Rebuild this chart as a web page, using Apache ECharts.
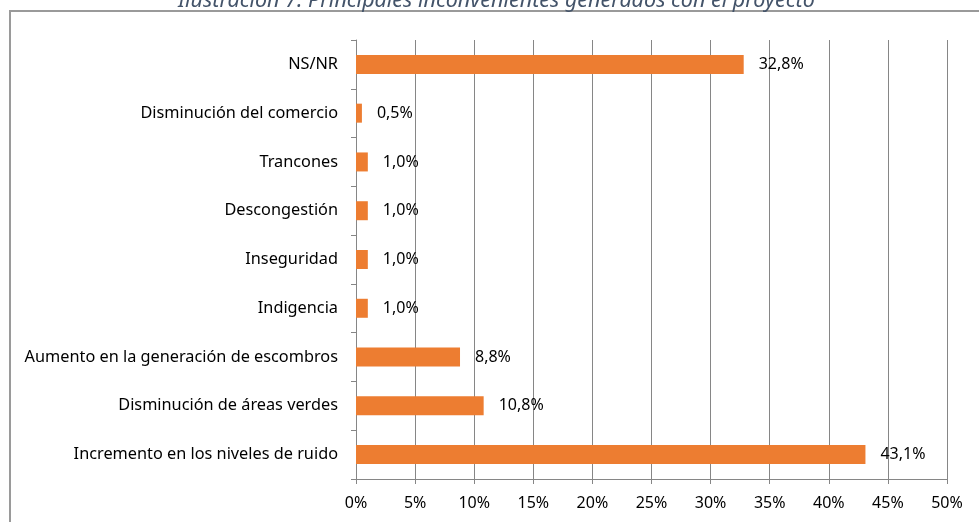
<!DOCTYPE html>
<html>
<head>
<meta charset="utf-8">
<script src="https://cdn.jsdelivr.net/npm/echarts@6/dist/echarts.min.js"></script>
<style>
	html, body { margin: 0; padding: 0; background: #fff; }
	#chart { width: 979px; height: 522px; }
</style>
</head>
<body>
<div id="chart"></div>
<script>
	// data (bottom to top, as drawn)
	var categories = [
		'Incremento en los niveles de ruido',
		'Disminución de áreas verdes',
		'Aumento en la generación de escombros',
		'Indigencia',
		'Inseguridad',
		'Descongestión',
		'Trancones',
		'Disminución del comercio',
		'NS/NR'
	]
	var values = [43.1, 10.8, 8.8, 1.0, 1.0, 1.0, 1.0, 0.5, 32.8]
	var titleText = 'Ilustración 7: Principales inconvenientes generados con el proyecto'

	var font = 'Noto Sans'
	var chart = echarts.init(document.getElementById('chart'))
	chart.setOption({
		animation: false,
		textStyle: { fontFamily: font },
		title: {
			text: titleText,
			left: 173,
			top: -15,
			textStyle: { fontFamily: font, fontStyle: 'italic', fontWeight: 'normal', fontSize: 21.5, color: '#44546A' }
		},
		graphic: [{
			type: 'rect',
			shape: { x: 10, y: 11, width: 1000, height: 600 },
			style: { fill: 'none', stroke: '#9a9a9a', lineWidth: 2 },
			silent: true
		}],
		grid: { left: 356, right: 32, top: 40, bottom: 43 },
		xAxis: {
			type: 'value',
			min: 0,
			max: 50,
			interval: 5,
			axisLine: { show: true, lineStyle: { color: '#868686' } },
			axisTick: { show: true, length: 5, lineStyle: { color: '#868686' } },
			splitLine: { show: true, lineStyle: { color: '#868686', width: 1 } },
			axisLabel: { formatter: '{value}%', fontSize: 16, color: '#000', margin: 16 }
		},
		yAxis: {
			type: 'category',
			data: categories,
			axisLine: { show: true, lineStyle: { color: '#868686' } },
			axisTick: { show: true, length: 5, lineStyle: { color: '#868686' } },
			axisLabel: { fontSize: 16.3, color: '#000', margin: 18 }
		},
		series: [{
			type: 'bar',
			data: values,
			barWidth: 19,
			itemStyle: { color: '#ED7D31' },
			label: {
				show: true,
				position: 'right',
				distance: 15,
				fontSize: 16,
				color: '#000',
				formatter: function (p) { return p.value.toFixed(1).replace('.', ',') + '%' }
			}
		}]
	})
</script>
</body>
</html>
